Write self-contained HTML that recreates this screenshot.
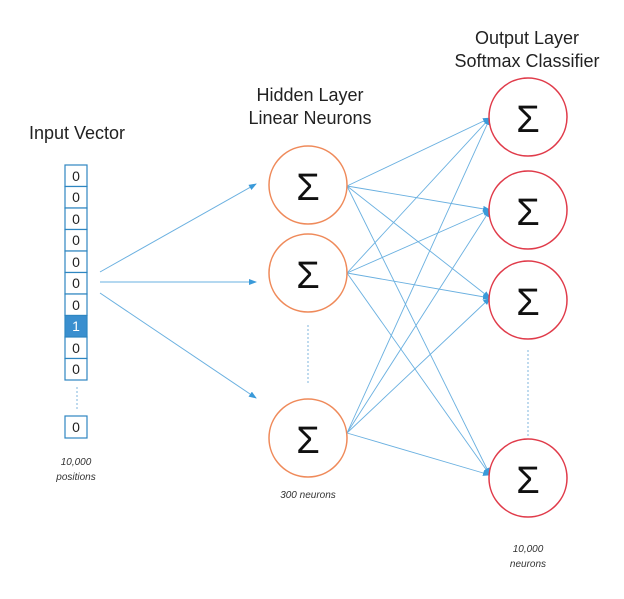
<!DOCTYPE html>
<html><head><style>
body{margin:0;background:#fff;}
svg text{font-family:"Liberation Sans",sans-serif;}
</style></head><body>
<svg width="624" height="594" viewBox="0 0 624 594" xmlns="http://www.w3.org/2000/svg">
<defs><marker id="a" markerWidth="8" markerHeight="8" refX="7" refY="3" orient="auto" markerUnits="userSpaceOnUse"><path d="M0,0 L8,3 L0,6 z" fill="#3a9ad9"/></marker></defs>
<g font-size="18" fill="#222" text-anchor="middle">
<text x="77" y="139">Input Vector</text>
<text x="310" y="101">Hidden Layer</text>
<text x="310" y="124">Linear Neurons</text>
<text x="527" y="44">Output Layer</text>
<text x="527" y="67">Softmax Classifier</text>
</g>
<g stroke="#2e86c1" stroke-width="1.2" fill="#fff">
<rect x="65" y="165" width="22" height="21.5"/><rect x="65" y="186.5" width="22" height="21.5"/>
<rect x="65" y="208" width="22" height="21.5"/><rect x="65" y="229.5" width="22" height="21.5"/>
<rect x="65" y="251" width="22" height="21.5"/><rect x="65" y="272.5" width="22" height="21.5"/>
<rect x="65" y="294" width="22" height="21.5"/><rect x="65" y="315.5" width="22" height="21.5" fill="#3a8fcf"/>
<rect x="65" y="337" width="22" height="21.5"/><rect x="65" y="358.5" width="22" height="21.5"/>
<rect x="65" y="416" width="22" height="22"/>
</g>
<g font-size="14" text-anchor="middle" fill="#222">
<text x="76" y="181">0</text><text x="76" y="202">0</text><text x="76" y="224">0</text><text x="76" y="245">0</text><text x="76" y="267">0</text><text x="76" y="288">0</text><text x="76" y="310">0</text><text x="76" y="331" fill="#fff">1</text><text x="76" y="353">0</text><text x="76" y="374">0</text><text x="76" y="432">0</text>
</g>
<g stroke="#7fb5dd" stroke-width="1" stroke-dasharray="2,2"><line x1="77" y1="387" x2="77" y2="411"/><line x1="308" y1="325" x2="308" y2="384"/><line x1="528" y1="350" x2="528" y2="436"/></g>
<g stroke="#6ab0e0" stroke-width="1" marker-end="url(#a)">
<line x1="100" y1="272" x2="256" y2="184"/><line x1="100" y1="282" x2="256" y2="282"/><line x1="100" y1="293" x2="256" y2="398"/>
</g>
<g stroke="#6ab0e0" stroke-width="0.9" marker-end="url(#a)">
<line x1="347" y1="186" x2="490" y2="118"/><line x1="347" y1="186" x2="490" y2="210"/><line x1="347" y1="186" x2="490" y2="298"/><line x1="347" y1="186" x2="490" y2="475"/>
<line x1="347" y1="273" x2="490" y2="118"/><line x1="347" y1="273" x2="490" y2="210"/><line x1="347" y1="273" x2="490" y2="298"/><line x1="347" y1="273" x2="490" y2="475"/>
<line x1="347" y1="433" x2="490" y2="118"/><line x1="347" y1="433" x2="490" y2="210"/><line x1="347" y1="433" x2="490" y2="298"/><line x1="347" y1="433" x2="490" y2="475"/>
</g>
<g fill="#fff" stroke="#ef8a5a" stroke-width="1.5">
<circle cx="308" cy="185" r="39"/><circle cx="308" cy="273" r="39"/><circle cx="308" cy="438" r="39"/>
</g>
<g fill="#fff" stroke="#e03b4a" stroke-width="1.5">
<circle cx="528" cy="117" r="39"/><circle cx="528" cy="210" r="39"/><circle cx="528" cy="300" r="39"/><circle cx="528" cy="478" r="39"/>
</g>
<g font-size="38" text-anchor="middle" fill="#111" style="font-family:'DejaVu Serif',serif">
<text x="308" y="200">Σ</text><text x="308" y="288">Σ</text><text x="308" y="453">Σ</text>
<text x="528" y="132">Σ</text><text x="528" y="225">Σ</text><text x="528" y="315">Σ</text><text x="528" y="493">Σ</text>
</g>
<g font-size="10" font-style="italic" fill="#333" text-anchor="middle">
<text x="76" y="465">10,000</text><text x="76" y="480">positions</text>
<text x="308" y="498">300 neurons</text>
<text x="528" y="552">10,000</text><text x="528" y="567">neurons</text>
</g>
</svg>
</body></html>
